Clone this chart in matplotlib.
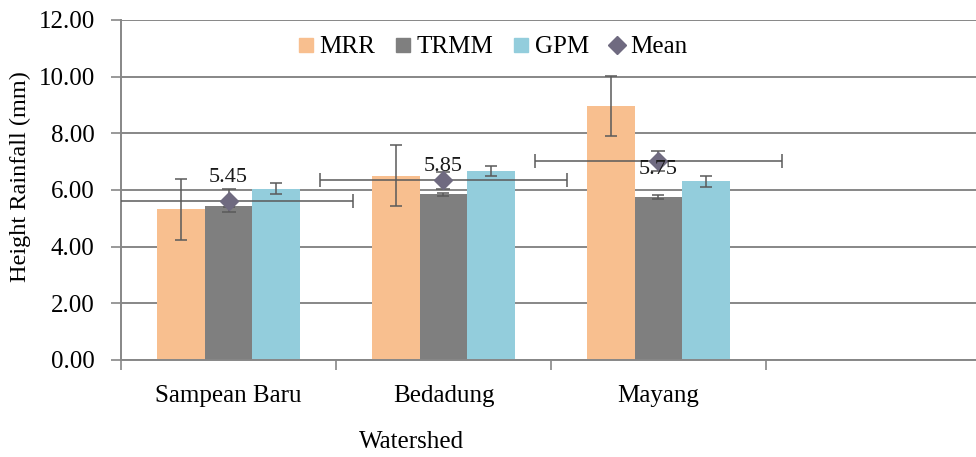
import numpy as np
import matplotlib.pyplot as plt
from matplotlib.lines import Line2D
from matplotlib.ticker import FormatStrFormatter, FixedLocator

plt.rcParams['font.family'] = ['Liberation Serif', 'DejaVu Serif']

# data
watersheds = ['Sampean Baru', 'Bedadung', 'Mayang']
mrr = [5.32, 6.50, 8.97]
mrr_err = [1.08, 1.07, 1.06]
trmm = [5.45, 5.85, 5.75]
trmm_err = [0.05, 0.05, 0.08]
gpm = [6.05, 6.66, 6.30]
gpm_err = [0.2, 0.17, 0.2]
mean = [5.62, 6.35, 7.02]
mean_yerr = [0.4, 0.3, 0.35]
mean_xerr = [0.58, 0.575, 0.575]

C_MRR = '#F8BF8F'
C_TRMM = '#7F7F7F'
C_GPM = '#93CDDC'
C_MEAN = '#6F6A80'
C_GRID = '#878787'
C_ERR = '#5A5A5A'

fig = plt.figure(figsize=(9.76, 4.57), dpi=100)
ax = fig.add_axes([0.124, 0.2123, 0.881, 0.744])

x = np.arange(len(watersheds))
w = 0.222

ax.bar(x - w, mrr, w, color=C_MRR, zorder=2)
ax.bar(x, trmm, w, color=C_TRMM, zorder=2)
ax.bar(x + w, gpm, w, color=C_GPM, zorder=2)

eb = dict(fmt='none', ecolor=C_ERR, elinewidth=1.1, capsize=4.5, capthick=1.1, zorder=3)
ax.errorbar(x - w, mrr, yerr=mrr_err, **eb)
ax.errorbar(x, trmm, yerr=trmm_err, **eb)
ax.errorbar(x + w, gpm, yerr=gpm_err, **eb)

# mean series with both error directions
ax.errorbar(x, mean, xerr=mean_xerr, yerr=mean_yerr, fmt='D', color=C_MEAN,
            ms=9, ecolor=C_ERR, elinewidth=1.1, capsize=5, capthick=1.1, zorder=4)

# TRMM value labels
for xi, v in zip(x, trmm):
    ax.annotate(f'{v:.2f}', (xi, v), xytext=(0, 20), textcoords='offset points',
                ha='center', va='center', fontsize=16, color='#1a1a1a', zorder=5)

ax.set_xlim(-0.5, 3.5)
ax.set_ylim(0, 12)
ax.yaxis.set_major_locator(FixedLocator(np.arange(0, 12.1, 2)))
ax.yaxis.set_major_formatter(FormatStrFormatter('%.2f'))
ax.grid(axis='y', color=C_GRID, lw=1.4, zorder=0)
ax.set_axisbelow(True)

ax.set_xticks(x)
ax.set_xticklabels(watersheds)
ax.set_xticks(np.arange(-0.5, 3.6, 1), minor=True)
ax.tick_params(axis='x', which='major', length=0, pad=18, labelsize=18)
ax.tick_params(axis='x', which='minor', length=7, color=C_GRID, width=1.2)
ax.tick_params(axis='y', length=7, color=C_GRID, width=1.2, pad=12, labelsize=18)

for s in ['top', 'right']:
    ax.spines[s].set_visible(False)
for s in ['left', 'bottom']:
    ax.spines[s].set_color(C_GRID)
    ax.spines[s].set_linewidth(1.4)

ax.set_ylabel('Height Rainfall (mm)', fontsize=17.5, va='center')
ax.yaxis.set_label_coords(-0.117, 0.54)
ax.set_xlabel('Watershed', fontsize=18, va='center')
ax.xaxis.set_label_coords(0.338, -0.241)

handles = [
    Line2D([], [], ls='', marker='s', ms=10, color=C_MRR),
    Line2D([], [], ls='', marker='s', ms=10, color=C_TRMM),
    Line2D([], [], ls='', marker='s', ms=10, color=C_GPM),
    Line2D([], [], ls='', marker='D', ms=9, color=C_MEAN),
]
fig.legend(handles, ['MRR', 'TRMM', 'GPM', 'Mean'], loc='center',
           bbox_to_anchor=(493 / 976, 1 - 47 / 457), ncol=4, frameon=False,
           fontsize=18, handlelength=0.6, handletextpad=0.25, columnspacing=0.8)

fig.savefig('out.png', dpi=100)
